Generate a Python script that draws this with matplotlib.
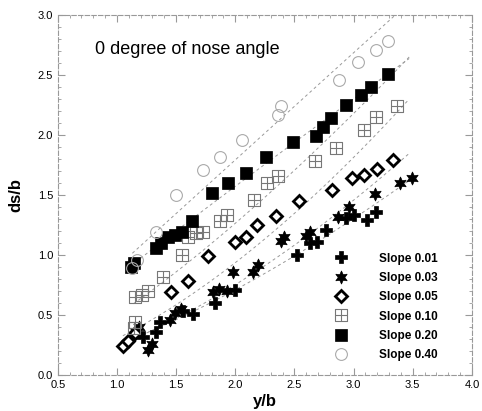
import numpy as np
import matplotlib
matplotlib.use("Agg")
import matplotlib.pyplot as plt
from matplotlib.path import Path

plt.rcParams['font.family'] = ['Liberation Sans', 'DejaVu Sans']

# slope 0.01 (plus)
x01 = [1.22, 1.33, 1.36, 1.56, 1.64, 1.83, 2.00, 2.52, 2.63, 2.69, 2.77, 2.94, 3.00, 3.11, 3.19]
y01 = [0.32, 0.36, 0.44, 0.53, 0.51, 0.60, 0.71, 1.00, 1.10, 1.11, 1.21, 1.31, 1.33, 1.29, 1.36]
# slope 0.03 (star)
x03 = [1.16, 1.19, 1.26, 1.30, 1.45, 1.49, 1.54, 1.81, 1.86, 1.93, 1.98, 2.15, 2.19,
       2.39, 2.41, 2.60, 2.63, 2.87, 2.96, 3.18, 3.39, 3.49]
y03 = [0.36, 0.40, 0.21, 0.26, 0.46, 0.52, 0.55, 0.69, 0.72, 0.70, 0.86, 0.86, 0.92,
       1.12, 1.15, 1.16, 1.19, 1.32, 1.40, 1.51, 1.60, 1.64]
# slope 0.05 (diamond)
x05 = [1.05, 1.09, 1.15, 1.46, 1.60, 1.77, 2.00, 2.09, 2.18, 2.34, 2.54, 2.82, 2.99, 3.09, 3.20, 3.33]
y05 = [0.24, 0.28, 0.35, 0.69, 0.78, 0.99, 1.11, 1.15, 1.25, 1.325, 1.45, 1.54, 1.64, 1.67, 1.72, 1.79]
# slope 0.10 (crossed square)
x10 = [1.14, 1.15, 1.15, 1.21, 1.26, 1.39, 1.55, 1.60, 1.67, 1.73, 1.87, 1.93, 2.16,
       2.27, 2.36, 2.67, 2.85, 3.09, 3.19, 3.37]
y10 = [0.39, 0.44, 0.65, 0.67, 0.70, 0.82, 1.00, 1.15, 1.18, 1.19, 1.28, 1.33, 1.46,
       1.60, 1.66, 1.78, 1.89, 2.04, 2.15, 2.24]
# slope 0.20 (filled square)
x20 = [1.12, 1.14, 1.33, 1.37, 1.43, 1.49, 1.55, 1.63, 1.80, 1.94, 2.09, 2.26, 2.49,
       2.68, 2.74, 2.81, 2.94, 3.06, 3.15, 3.29]
y20 = [0.90, 0.93, 1.06, 1.10, 1.15, 1.17, 1.19, 1.28, 1.52, 1.60, 1.68, 1.82, 1.94,
       1.99, 2.07, 2.14, 2.25, 2.33, 2.40, 2.51]
# slope 0.40 (open circle)
x40 = [1.13, 1.17, 1.33, 1.50, 1.73, 1.87, 2.06, 2.36, 2.39, 2.88, 3.04, 3.19, 3.29]
y40 = [0.89, 0.96, 1.19, 1.50, 1.71, 1.82, 1.96, 2.17, 2.24, 2.46, 2.61, 2.71, 2.78]

labels = ['Slope 0.01', 'Slope 0.03', 'Slope 0.05', 'Slope 0.10', 'Slope 0.20', 'Slope 0.40']
x_end = 3.47

# square with a cross inside
crossbox = Path([(-1, -1), (1, -1), (1, 1), (-1, 1), (-1, -1),
                 (0, -1), (0, 1), (-1, 0), (1, 0)],
                [Path.MOVETO, Path.LINETO, Path.LINETO, Path.LINETO, Path.CLOSEPOLY,
                 Path.MOVETO, Path.LINETO, Path.MOVETO, Path.LINETO])

styles = [
    dict(marker='P', ms=8.5, mfc='black', mec='black', mew=0.5),
    dict(marker=(6, 1, 0), ms=9.5, mfc='black', mec='black', mew=0.5),
    dict(marker='D', ms=6, mfc='white', mec='black', mew=2.0),
    dict(marker=crossbox, ms=9, mfc='none', mec='#777777', mew=0.8),
    dict(marker='s', ms=8, mfc='black', mec='black', mew=0.5),
    dict(marker='o', ms=8.5, mfc='none', mec='#aaaaaa', mew=0.8),
]

series = [(x01, y01), (x03, y03), (x05, y05), (x10, y10), (x20, y20), (x40, y40)]

fig = plt.figure(figsize=(4.82, 4.11), dpi=100)
ax = fig.add_axes([0.120, 0.0876, 0.859, 0.876])

for (xs, ys), st, lab in zip(series, styles, labels):
    xs = np.array(xs)
    ys = np.array(ys)
    # power-law fit drawn as thin dashed line
    b, a = np.polyfit(np.log(xs), np.log(ys), 1)
    xf = np.linspace(xs.min(), x_end, 50)
    ax.plot(xf, np.exp(a) * xf ** b, color='#999999', lw=0.7, ls=(0, (3, 3)), zorder=1)
    ax.plot(xs, ys, ls='none', label=lab, zorder=2, **st)

ax.set_xlim(0.5, 4.0)
ax.set_ylim(0.0, 3.0)
ax.set_xticks(np.arange(0.5, 4.01, 0.5))
ax.set_yticks(np.arange(0.0, 3.01, 0.5))
ax.set_xticks(np.arange(0.5, 4.01, 0.1), minor=True)
ax.set_yticks(np.arange(0.0, 3.01, 0.1), minor=True)
ax.tick_params(which='both', direction='in', top=True, right=True, colors='#999999',
               labelcolor='black', labelsize=8)
ax.tick_params(which='major', length=5)
ax.tick_params(which='minor', length=2.5)
for s in ax.spines.values():
    s.set_color('#999999')
    s.set_linewidth(0.8)
    s.set_linestyle((0, (4, 2)))

ax.set_xlabel('y/b', fontsize=12, fontweight='bold', labelpad=3)
ax.set_ylabel('ds/b', fontsize=12, fontweight='bold', labelpad=10)
ax.text(0.81, 2.71, '0 degree of nose angle', fontsize=13, va='center', ha='left')

ax.legend(loc='upper left', bbox_to_anchor=(0.655, 0.34), frameon=False,
          prop={'size': 8.5, 'weight': 'bold'}, borderpad=0, borderaxespad=0,
          labelspacing=0.62, handletextpad=2.2, handlelength=2.0, numpoints=1)

fig.savefig('out.png', dpi=100)
